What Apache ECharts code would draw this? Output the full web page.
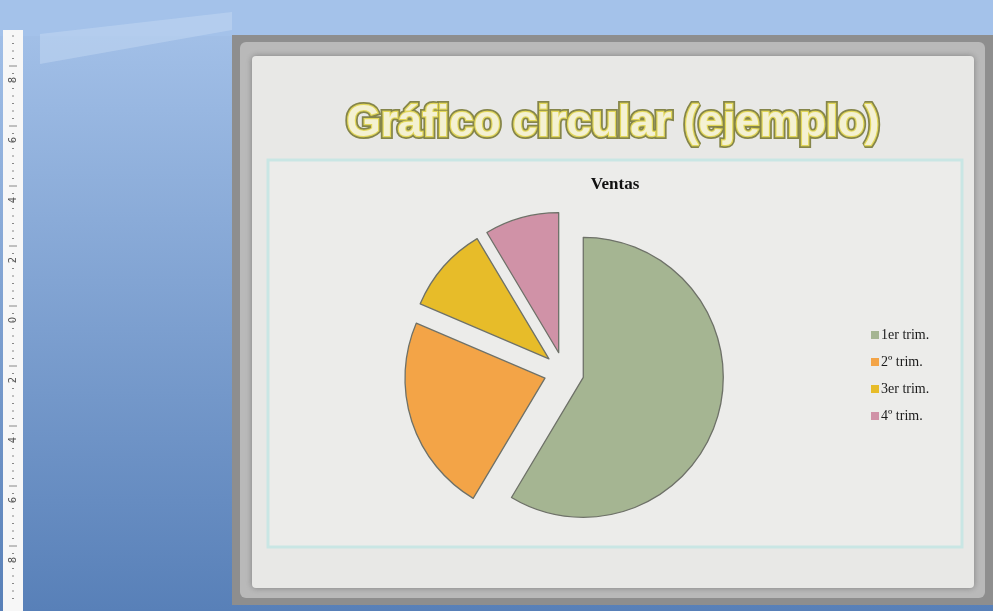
<!DOCTYPE html>
<html>
<head>
<meta charset="utf-8">
<script src="https://cdn.jsdelivr.net/npm/echarts@6/dist/echarts.min.js"></script>
<style>
  html, body { margin: 0; padding: 0; background: #9dbbe3; }
  #chart { width: 993px; height: 611px; }
</style>
</head>
<body>
<div id="chart"></div>
<script>
// datos del gráfico
const categories = ['1er trim.', '2º trim.', '3er trim.', '4º trim.']
const ventas = [8.2, 3.2, 1.4, 1.2]
const colors = ['#a5b592', '#f3a447', '#e7bc29', '#d092a7']
const rulerLabels = ['8', '6', '4', '2', '0', '2', '4', '6', '8']

const chart = echarts.init(document.getElementById('chart'))

// regla vertical de la izquierda (decoración)
const ruler = [
  { type: 'rect', shape: { x: 3, y: 30, width: 20, height: 581 }, style: { fill: '#f7f7f7' }, z: 1 }
]
for (let i = 0; i < 76; i++) {
  const y = 36 + i * 7.5
  const long = i % 8 === 4
  ruler.push({ type: 'line', shape: { x1: long ? 9 : 12, y1: y, x2: long ? 17 : 14, y2: y },
    style: { stroke: '#888', lineWidth: 1 }, z: 2 })
}
rulerLabels.forEach((t, i) => {
  ruler.push({ type: 'text', x: 13, y: 80 + i * 60, rotation: Math.PI / 2,
    style: { text: t, fill: '#555', font: '10px "DejaVu Sans"', align: 'center', verticalAlign: 'middle' }, z: 3 })
})

const titleFont = 'bold 44px "Liberation Sans"'

chart.setOption({
  backgroundColor: '#9dbbe3',
  color: colors,
  graphic: [
    // fondo de PowerPoint
    { type: 'rect', shape: { x: 0, y: 0, width: 993, height: 611 },
      style: { fill: new echarts.graphic.LinearGradient(0, 0, 0, 1, [
        { offset: 0, color: '#a6c3ea' }, { offset: 1, color: '#5880b8' }]) }, z: 0 },
    { type: 'rect', shape: { x: 0, y: 0, width: 993, height: 36 }, style: { fill: '#a4c2ea' }, z: 0 },
    { type: 'polygon', shape: { points: [[40, 34], [232, 12], [232, 30], [40, 64]] },
      style: { fill: 'rgba(200,220,244,0.45)' }, z: 0 },
    ...ruler,
    // marco de la diapositiva (papel)
    { type: 'rect', shape: { x: 232, y: 35, width: 761, height: 570 }, style: { fill: '#8e8e8e' }, z: 1 },
    { type: 'rect', shape: { x: 240, y: 42, width: 745, height: 556, r: 6 },
      style: { fill: '#b9b9b9' }, z: 1 },
    { type: 'rect', shape: { x: 252, y: 56, width: 722, height: 532, r: 4 },
      style: { fill: '#e8e8e6', shadowBlur: 6, shadowColor: 'rgba(90,90,90,0.6)' }, z: 1 },
    // marco del área del gráfico
    { type: 'rect', shape: { x: 268, y: 160, width: 694, height: 387 },
      style: { fill: '#ececea', stroke: '#c9e6e4', lineWidth: 3 }, z: 1 },
    // título de la diapositiva
    { type: 'text', x: 613, y: 124, z: 5,
      style: { text: 'Gráfico circular (ejemplo)', font: titleFont,
        align: 'center', verticalAlign: 'middle', fill: '#f2ed9a', stroke: '#85854a', lineWidth: 6 } },
    { type: 'text', x: 613, y: 124, z: 6,
      style: { text: 'Gráfico circular (ejemplo)', font: titleFont,
        align: 'center', verticalAlign: 'middle', fill: '#f4f1d2', stroke: '#e2d75a', lineWidth: 2.5 } },
    // título del gráfico
    { type: 'text', x: 615, y: 185, z: 6,
      style: { text: 'Ventas', font: 'bold 17px "Liberation Serif"', align: 'center',
        verticalAlign: 'middle', fill: '#111' } }
  ],
  legend: {
    orient: 'vertical',
    left: 866,
    top: 323,
    itemWidth: 8,
    itemHeight: 8,
    itemGap: 13,
    icon: 'rect',
    data: categories,
    itemStyle: { borderWidth: 0 },
    textStyle: { fontFamily: 'Liberation Serif', fontSize: 14, color: '#1a1a1a', padding: [0, 0, 0, -3] }
  },
  series: [{
    type: 'pie',
    center: [564, 372],
    radius: 140,
    startAngle: 90,
    clockwise: true,
    selectedMode: 'multiple',
    selectedOffset: 20,
    label: { show: false },
    labelLine: { show: false },
    emphasis: { disabled: true },
    itemStyle: { borderColor: '#6e7168', borderWidth: 1.3 },
    data: categories.map((name, i) => ({ name, value: ventas[i], selected: true }))
  }]
})
</script>
</body>
</html>
